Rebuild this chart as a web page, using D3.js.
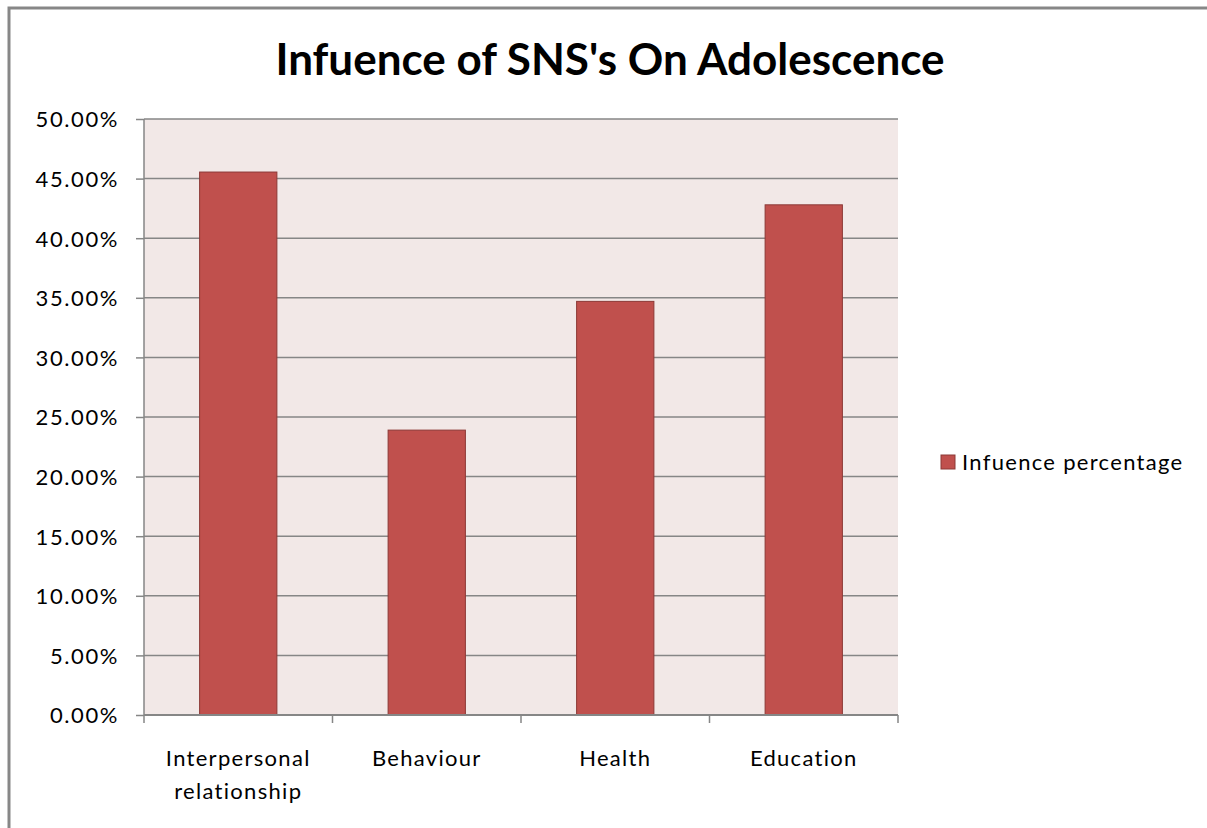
<!DOCTYPE html>
<html>
<head>
<meta charset="utf-8">
<script src="https://cdn.jsdelivr.net/npm/d3@7"></script>
<style>
  body { margin: 0; background: #fff; }
  svg { display: block; }
</style>
</head>
<body>
<svg id="chart" width="1207" height="828"></svg>
<script>
// data
const categories = [["Interpersonal", "relationship"], ["Behaviour"], ["Health"], ["Education"]];
const values = [0.4555, 0.239, 0.347, 0.428];
const yTicks = [0, 0.05, 0.10, 0.15, 0.20, 0.25, 0.30, 0.35, 0.40, 0.45, 0.50];
const seriesName = "Infuence percentage";
const chartTitle = "Infuence of SNS's On Adolescence";

const font = "Lato, 'Open Sans', sans-serif";
const barFill = "#C0504D";
const barStroke = "#8C3836";
const gridColor = "#868686";

const svg = d3.select("#chart");

// outer frame
svg.append("rect")
    .attr("x", 9).attr("y", 8)
    .attr("width", 1210).attr("height", 840)
    .attr("fill", "none")
    .attr("stroke", "#878787")
    .attr("stroke-width", 3);

const plot = { left: 144, right: 898, top: 119, bottom: 715 };

const x = d3.scaleBand()
    .domain(d3.range(categories.length))
    .range([plot.left, plot.right])
    .paddingInner(0.59)
    .paddingOuter(0.295);

const y = d3.scaleLinear()
    .domain([0, 0.5])
    .range([plot.bottom, plot.top]);

// plot background
svg.append("rect")
    .attr("x", plot.left).attr("y", plot.top)
    .attr("width", plot.right - plot.left)
    .attr("height", plot.bottom - plot.top)
    .attr("fill", "#F2E8E7");

// gridlines
svg.append("g")
    .selectAll("line")
    .data(yTicks.slice(1))
    .join("line")
    .attr("x1", plot.left).attr("x2", plot.right)
    .attr("y1", d => y(d)).attr("y2", d => y(d))
    .attr("stroke", gridColor)
    .attr("stroke-width", 1.5);

// y axis
const yAxis = svg.append("g")
    .attr("transform", `translate(${plot.left},0)`)
    .call(d3.axisLeft(y).tickValues(yTicks).tickFormat(d3.format(".2%")).tickSize(8).tickPadding(17));
yAxis.select(".domain").attr("stroke", gridColor).attr("stroke-width", 1.5).attr("d", `M0,${plot.top}V${plot.bottom}`);
yAxis.selectAll(".tick line").attr("stroke", gridColor).attr("stroke-width", 1.5);
yAxis.selectAll(".tick text")
    .attr("fill", "#000")
    .attr("dy", "0.36em")
    .style("font-family", font)
    .style("font-size", "22px")
    .style("letter-spacing", "1.6px");

// bars
svg.append("g")
    .selectAll("rect")
    .data(values)
    .join("rect")
    .attr("x", (d, i) => x(i))
    .attr("y", d => y(d))
    .attr("width", x.bandwidth())
    .attr("height", d => y(0) - y(d))
    .attr("fill", barFill)
    .attr("stroke", barStroke)
    .attr("stroke-width", 1);

// x axis
const step = (plot.right - plot.left) / categories.length;
const xAxis = svg.append("g");
xAxis.append("line")
    .attr("x1", plot.left).attr("x2", plot.right)
    .attr("y1", plot.bottom).attr("y2", plot.bottom)
    .attr("stroke", gridColor).attr("stroke-width", 2);
xAxis.selectAll(".xtick")
    .data(d3.range(categories.length + 1))
    .join("line")
    .attr("class", "xtick")
    .attr("x1", i => plot.left + i * step).attr("x2", i => plot.left + i * step)
    .attr("y1", plot.bottom).attr("y2", plot.bottom + 8)
    .attr("stroke", gridColor).attr("stroke-width", 1.5);

const labels = xAxis.selectAll(".xlabel")
    .data(categories)
    .join("text")
    .attr("class", "xlabel")
    .attr("text-anchor", "middle")
    .style("font-family", font)
    .style("font-size", "22px")
    .style("letter-spacing", "1.3px")
    .attr("fill", "#000");
labels.selectAll("tspan")
    .data((d, i) => d.map(s => ({ s, i })))
    .join("tspan")
    .attr("x", d => x(d.i) + x.bandwidth() / 2)
    .attr("y", (d, j) => 766 + j * 33)
    .text(d => d.s);

// title
svg.append("text")
    .attr("x", 610).attr("y", 75)
    .attr("text-anchor", "middle")
    .style("font-family", font)
    .style("font-weight", "bold")
    .style("font-size", "44px")
    .text(chartTitle);

// legend
const legend = svg.append("g").attr("transform", "translate(941,455)");
legend.append("rect")
    .attr("width", 14).attr("height", 14)
    .attr("fill", barFill).attr("stroke", barStroke);
legend.append("text")
    .attr("x", 21).attr("y", 15)
    .style("font-family", font)
    .style("font-size", "22px")
    .style("letter-spacing", "1.3px")
    .text(seriesName);
</script>
</body>
</html>
